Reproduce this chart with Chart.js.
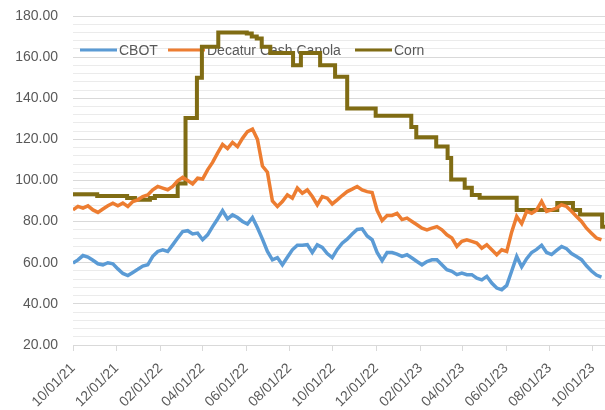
<!DOCTYPE html>
<html>
<head>
<meta charset="utf-8">
<script src="https://cdn.jsdelivr.net/npm/chart.js@4.4.0/dist/chart.umd.min.js"></script>
<style>
  html, body { margin: 0; padding: 0; background: #fff; }
  #wrap { width: 605px; height: 410px; position: relative; }
</style>
</head>
<body>
<div id="wrap"><canvas id="chart"></canvas></div>
<script>
// Weekly readings starting 10/01/21 (one value every 7 days)
const startLabel = '10/01/21';
const cbot = [
    59.8, 61.4, 63.5, 62.8, 61.2, 59.5, 59.0, 60.0, 59.5, 57.0,
    54.8, 53.8, 55.3, 56.8, 58.4, 59.0, 63.1, 65.5, 66.3, 65.5,
    68.7, 72.0, 75.2, 75.6, 74.0, 74.4, 71.2, 73.6, 77.6, 81.3,
    85.3, 81.3, 83.3, 82.0, 80.1, 78.8, 82.0, 77.0, 71.5, 65.5,
    61.4, 62.5, 59.0, 62.7, 66.3, 68.5, 68.5, 68.8, 65.0, 68.7,
    67.5, 64.5, 62.5, 66.5, 69.5, 71.5, 74.0, 76.2, 76.5, 73.0,
    71.2, 65.0, 61.0, 65.0, 65.0, 64.2, 63.1, 63.9, 62.3, 60.6,
    59.0, 60.6, 61.4, 61.4, 59.0, 56.6, 55.8, 54.2, 55.0, 54.2,
    54.2, 52.5, 51.7, 53.4, 50.1, 47.7, 46.9, 49.0, 56.0, 63.1,
    58.0, 62.0, 65.0, 66.5, 68.5, 65.0, 64.0, 66.0, 67.9, 66.8,
    64.5, 63.0, 61.5, 58.5, 56.0, 54.0, 53.0
];
const canola = [
    85.7, 87.4, 86.6, 87.7, 85.7, 84.5, 86.1, 87.7, 89.0, 87.7,
    89.0, 87.4, 89.8, 90.6, 92.2, 93.0, 95.5, 97.1, 96.3, 95.5,
    97.1, 99.8, 101.5, 100.0, 98.3, 101.1, 100.7, 105.2, 108.8, 113.3,
    117.5, 115.5, 118.5, 116.5, 120.5, 123.8, 125.0, 120.0, 107.0, 104.0,
    90.0, 87.4, 89.8, 93.0, 91.4, 96.3, 93.8, 95.4, 92.2, 88.2,
    92.2, 91.4, 88.6, 90.6, 92.7, 94.6, 95.8, 97.1, 95.4, 94.6,
    94.2, 85.5, 80.5, 83.0, 83.0, 84.0, 81.0, 81.7, 80.1, 78.5,
    76.8, 76.0, 76.8, 77.6, 76.0, 73.6, 72.0, 67.9, 70.4, 71.2,
    70.4, 69.6, 67.1, 68.7, 66.3, 63.9, 66.3, 65.5, 75.0, 82.5,
    79.0, 85.0, 84.1, 85.7, 89.8, 85.0, 85.7, 86.6, 88.2, 87.4,
    85.0, 82.5, 80.1, 76.8, 74.4, 72.0, 71.2
];
// Corn moves in steps: day (since 10/01/21) the price changes, and the new price
const cornDay = [0, 34, 76, 87, 108, 115, 147, 158, 174, 181, 204, 244, 251, 258, 265, 277, 309, 320, 347, 368, 385, 425, 475, 482, 510, 526, 531, 550, 560, 571, 623, 680, 702, 712, 743, 747];
const corn = [93.3, 92.5, 91.5, 90.6, 91.5, 92.5, 98.5, 130.4, 150.0, 165.0, 172.0, 171.5, 170.0, 169.0, 165.0, 162.0, 156.0, 162.0, 156.0, 150.5, 135.0, 131.5, 126.0, 121.0, 116.5, 111.0, 100.5, 96.5, 93.0, 91.6, 85.7, 89.0, 85.7, 83.5, 77.5, 77.5];

const xTickLabels = ['10/01/21', '12/01/21', '02/01/22', '04/01/22', '06/01/22', '08/01/22', '10/01/22', '12/01/22', '02/01/23', '04/01/23', '06/01/23', '08/01/23', '10/01/23'];
const seriesNames = ['CBOT', 'Decatur Cash Canola', 'Corn'];
const seriesColors = ['#5b9bd5', '#ed7d31', '#806c14'];

function parseDate(s) {
    const [m, d, y] = s.split('/').map(Number);
    return new Date(2000 + y, m - 1, d);
}
const start = parseDate(startLabel);
function dayOf(s) { return Math.round((parseDate(s) - start) / 86400000); }
function pad(n) { return String(n).padStart(2, '0'); }
function labelOf(day) {
    const d = new Date(start.getTime());
    d.setDate(d.getDate() + day);
    return pad(d.getMonth() + 1) + '/' + pad(d.getDate()) + '/' + pad(d.getFullYear() % 100);
}
const xTickDays = xTickLabels.map(dayOf);

const FONT = '"Liberation Sans", Arial, sans-serif';
const TEXT = '#595959';

// legend drawn under the lines, inside the plot
const legendPlugin = {
    id: 'innerLegend',
    beforeDatasetsDraw(chart) {
        const c = chart.ctx;
        const spots = [80, 168, 355];
        c.save();
        c.font = '14px ' + FONT;
        c.textBaseline = 'middle';
        seriesNames.forEach((name, i) => {
            const x = spots[i], y = 50;
            c.strokeStyle = seriesColors[i];
            c.lineWidth = 3;
            c.beginPath();
            c.moveTo(x, y);
            c.lineTo(x + 37, y);
            c.stroke();
            c.fillStyle = TEXT;
            c.fillText(name, x + 39, y + 1);
        });
        c.restore();
    }
};

new Chart(document.getElementById('chart'), {
    type: 'line',
    data: {
        datasets: [
            { label: seriesNames[0], data: cbot.map((v, i) => ({ x: i * 7, y: v })), borderColor: seriesColors[0], borderWidth: 3.5, pointRadius: 0 },
            { label: seriesNames[1], data: canola.map((v, i) => ({ x: i * 7, y: v })), borderColor: seriesColors[1], borderWidth: 3.5, pointRadius: 0 },
            { label: seriesNames[2], data: cornDay.map((d, i) => ({ x: d, y: corn[i] })), borderColor: seriesColors[2], borderWidth: 4, pointRadius: 0, stepped: true }
        ]
    },
    options: {
        responsive: true,
        maintainAspectRatio: false,
        animation: false,
        layout: { padding: { top: 16, right: 0, left: 0, bottom: 0 } },
        plugins: { legend: { display: false }, tooltip: { enabled: false } },
        scales: {
            x: {
                type: 'linear',
                min: 0,
                max: 747,
                afterBuildTicks: scale => { scale.ticks = xTickDays.map(v => ({ value: v })); },
                afterFit: scale => {
                    scale.height = 65;
                    scale.paddingLeft = 0;
                    scale.paddingRight = 0;
                },
                ticks: {
                    autoSkip: false,
                    minRotation: 45,
                    maxRotation: 45,
                    padding: 9,
                    color: TEXT,
                    font: { family: FONT, size: 14 },
                    callback: v => labelOf(v)
                },
                grid: { drawOnChartArea: false, drawTicks: true, tickLength: 6, color: '#d9d9d9' },
                border: { color: '#d9d9d9' }
            },
            y: {
                min: 20,
                max: 180,
                afterFit: scale => {
                    scale.width = 73;
                    scale.paddingTop = 0;
                    scale.paddingBottom = 0;
                },
                ticks: {
                    stepSize: 4,
                    autoSkip: false,
                    padding: 15,
                    color: TEXT,
                    font: { family: FONT, size: 14 },
                    callback: v => (Math.round(v) % 20 === 0 ? v.toFixed(2) : '')
                },
                grid: {
                    drawTicks: false,
                    color: ctx => (Math.round(ctx.tick.value) % 20 === 0 ? '#d9d9d9' : '#ebebeb')
                },
                border: { display: false }
            }
        }
    },
    plugins: [legendPlugin]
});
</script>
</body>
</html>
